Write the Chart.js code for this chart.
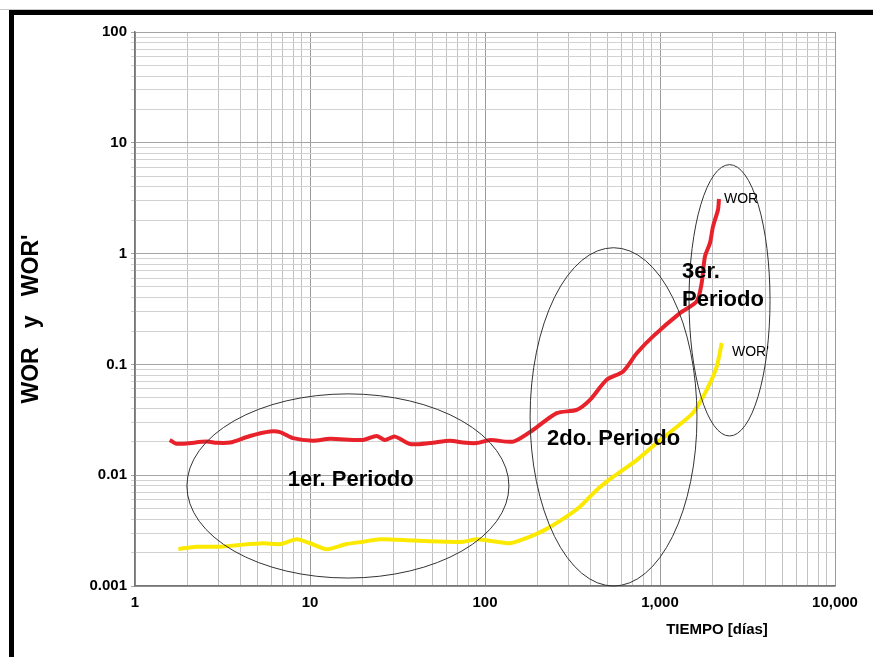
<!DOCTYPE html>
<html>
<head>
<meta charset="utf-8">
<script src="https://cdn.jsdelivr.net/npm/chart.js@4/dist/chart.umd.min.js"></script>
<style>
  html, body { margin: 0; padding: 0; background: #fff; overflow: hidden; }
  #wrap { position: relative; width: 873px; height: 657px; }
  #frame { position: absolute; left: 9px; top: 10px; right: 0; bottom: 0;
           border-top: 5px solid #000; border-left: 5px solid #000; pointer-events: none; }
  #topline { position: absolute; left: 0; right: 0; top: 9px; height: 1px; background: #c8c8c8; }
</style>
</head>
<body>
<div id="wrap">
  <canvas id="worChart" width="873" height="657"></canvas>
  <div id="topline"></div>
  <div id="frame"></div>
</div>
<script>
// WOR (red) – dias / valor
const worDays = [1.58, 1.73, 2.57, 2.93, 3.49, 4.54, 5.91, 6.74, 8.0, 10.4, 13.0, 20.1, 24.0, 26.8, 30.6, 37.3, 48.5, 63.1, 74.9, 89.7,
  107, 145, 188, 257, 334, 398, 496, 615, 736, 912, 1300, 1621, 1730, 1807, 1931, 2009, 2145, 2173];
const worValues = [0.0208, 0.0192, 0.0201, 0.0196, 0.0197, 0.0226, 0.0248, 0.0245, 0.0216, 0.0205, 0.0213, 0.0208, 0.0226, 0.0208, 0.0223, 0.0191, 0.0195, 0.0205, 0.0197, 0.0195,
  0.0208, 0.0201, 0.0256, 0.0363, 0.0389, 0.0479, 0.0726, 0.0863, 0.126, 0.179, 0.290, 0.370, 0.542, 0.944, 1.25, 1.76, 2.49, 3.11];

// WOR' (yellow)
const worpDays = [1.77, 2.25, 3.06, 3.98, 5.39, 6.74, 8.40, 10.0, 12.5, 16.2, 20.2, 25.1, 38.9, 60.4, 75.2, 89.7,
  117, 139, 181, 220, 268, 349, 435, 541, 736, 957, 1186, 1545, 1849, 2109, 2253];
const worpValues = [0.00216, 0.00226, 0.00226, 0.00235, 0.00243, 0.00239, 0.00264, 0.00243, 0.00215, 0.00239, 0.00251, 0.00264, 0.00257, 0.00251, 0.00251, 0.00264,
  0.00251, 0.00243, 0.00279, 0.00321, 0.00387, 0.0052, 0.00736, 0.0097, 0.0137, 0.0195, 0.0256, 0.0366, 0.059, 0.0957, 0.156];

// tick labels (decades only)
const xTickValues = [1, 10, 100, 1000, 10000];
const xTickLabels = ['1', '10', '100', '1,000', '10,000'];
const yTickValues = [0.001, 0.01, 0.1, 1, 10, 100];
const yTickLabels = ['0.001', '0.01', '0.1', '1', '10', '100'];

// period ellipses, in data units (days / WOR)
const periodNames = ['1er. Periodo', '2do. Periodo', '3er. Periodo'];
const ellipseDays = [[1.98, 137], [181, 1627], [1465, 4253]];
const ellipseWor = [[0.00118, 0.0542], [0.001, 1.13], [0.0226, 6.35]];

const FONT = "'Liberation Sans', Arial, sans-serif";

const isDecade = (v) => Math.abs(Math.log10(v) - Math.round(Math.log10(v))) < 1e-6;
const labelFor = (vals, labels, v) => {
  const i = vals.findIndex((t) => Math.abs(Math.log10(t) - Math.log10(v)) < 1e-6);
  return i < 0 ? '' : labels[i];
};
// drop Chart.js' 1.5-type ticks, keep 1..9 per decade
const keepWholeTicks = (scale) => {
  scale.ticks = scale.ticks.filter((t) => {
    const m = t.value / Math.pow(10, Math.floor(Math.log10(t.value) + 1e-9));
    return Math.abs(m - Math.round(m)) < 1e-6;
  });
};

const annotations = {
  id: 'annotations',
  afterDatasetsDraw(chart) {
    const { ctx, scales: { x, y } } = chart;
    ctx.save();
    ctx.strokeStyle = '#333';
    ctx.lineWidth = 1;
    ellipseDays.forEach((d, i) => {
      const l = x.getPixelForValue(d[0]), r = x.getPixelForValue(d[1]);
      const b = y.getPixelForValue(ellipseWor[i][0]), t = y.getPixelForValue(ellipseWor[i][1]);
      ctx.beginPath();
      ctx.ellipse((l + r) / 2, (t + b) / 2, (r - l) / 2, (b - t) / 2, 0, 0, Math.PI * 2);
      ctx.stroke();
    });

    const texts = [
      { text: periodNames[0], x: 17.1, y: 0.00907, align: 'center', font: 'bold 22px ' + FONT },
      { text: periodNames[1], x: 226, y: 0.0213, align: 'left', font: 'bold 22px ' + FONT },
      { text: '3er.', x: 1336, y: 0.686, align: 'left', font: 'bold 22px ' + FONT },
      { text: 'Periodo', x: 1336, y: 0.383, align: 'left', font: 'bold 22px ' + FONT },
      { text: 'WOR', x: 2321, y: 3.13, align: 'left', font: '14px ' + FONT },
      { text: "WOR'", x: 2579, y: 0.130, align: 'left', font: '14px ' + FONT },
    ];
    ctx.fillStyle = '#000';
    ctx.textBaseline = 'middle';
    texts.forEach((t) => {
      ctx.font = t.font;
      ctx.textAlign = t.align;
      ctx.fillText(t.text, x.getPixelForValue(t.x), y.getPixelForValue(t.y));
    });

    // axis titles
    const a = chart.chartArea;
    ctx.font = 'bold 23px ' + FONT;
    ctx.textAlign = 'center';
    ctx.save();
    ctx.translate(32, (a.top + a.bottom) / 2 + 10);
    ctx.rotate(-Math.PI / 2);
    ctx.fillText("WOR   y   WOR'", 0, 0);
    ctx.restore();
    ctx.font = 'bold 15px ' + FONT;
    ctx.fillText('TIEMPO [días]', a.right - 118, a.bottom + 44);
    ctx.restore();
  },
};

new Chart(document.getElementById('worChart').getContext('2d'), {
  type: 'line',
  data: {
    datasets: [
      { label: 'WOR', data: worDays.map((d, i) => ({ x: d, y: worValues[i] })), borderColor: '#e8222a', borderWidth: 4, pointRadius: 0, tension: 0.25 },
      { label: "WOR'", data: worpDays.map((d, i) => ({ x: d, y: worpValues[i] })), borderColor: '#fbea00', borderWidth: 4, pointRadius: 0, tension: 0.25 },
    ],
  },
  options: {
    responsive: false,
    animation: false,
    layout: { padding: { left: 0, top: 32, right: 38, bottom: 0 } },
    plugins: { legend: { display: false }, tooltip: { enabled: false } },
    scales: {
      x: {
        type: 'logarithmic', min: 1, max: 10000,
        afterBuildTicks: keepWholeTicks,
        afterFit: (s) => { s.height = 71; },
        grid: { drawTicks: false, color: (c) => (c.tick && isDecade(c.tick.value) ? '#9a9a9a' : '#c2c2c2') },
        border: { color: '#777', width: 1.5 },
        ticks: {
          autoSkip: false, maxRotation: 0, padding: 8, color: '#000',
          font: { family: FONT, size: 15, weight: 'bold' },
          callback: (v) => labelFor(xTickValues, xTickLabels, v),
        },
      },
      y: {
        type: 'logarithmic', min: 0.001, max: 100,
        afterBuildTicks: keepWholeTicks,
        afterFit: (s) => { s.width = 135; },
        grid: { tickLength: 4, color: (c) => (c.tick && isDecade(c.tick.value) ? '#a4a4a4' : '#d2d2d2') },
        border: { color: '#777', width: 1.5 },
        ticks: {
          autoSkip: false, padding: 4, color: '#000',
          font: { family: FONT, size: 15, weight: 'bold' },
          callback: (v) => labelFor(yTickValues, yTickLabels, v),
        },
      },
    },
  },
  plugins: [annotations],
});
</script>
</body>
</html>
